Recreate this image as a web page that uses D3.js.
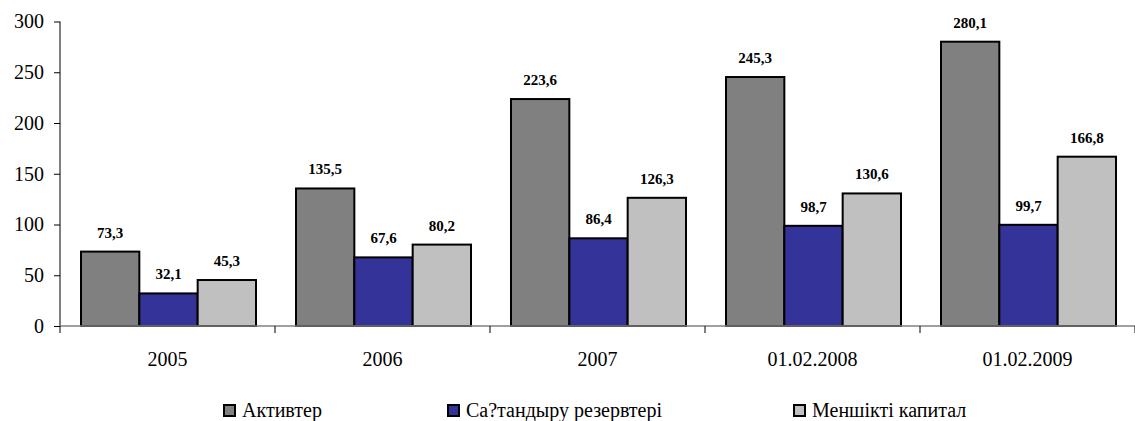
<!DOCTYPE html>
<html><head><meta charset="utf-8">
<script src="https://cdn.jsdelivr.net/npm/d3@7"></script>
</head><body style="margin:0;background:#fff"><svg id="c" width="1135" height="421" style="display:block"></svg>
<script>
const categories = ["2005","2006","2007","01.02.2008","01.02.2009"];
const seriesNames = ["Активтер","Са?тандыру резервтері","Меншікті капитал"];
const activeValues = [73.3,135.5,223.6,245.3,280.1];
const reserveValues = [32.1,67.6,86.4,98.7,99.7];
const capitalValues = [45.3,80.2,126.3,130.6,166.8];
const yTicks = [0,50,100,150,200,250,300];
const colors = ["#808080","#333399","#c0c0c0"];

const series = [activeValues, reserveValues, capitalValues];
const svg = d3.select("#c").attr("font-family","Liberation Serif");
const x0 = d3.scaleBand().domain(categories).range([60,1135]);
const x1 = d3.scaleBand().domain(d3.range(3)).range([21, 196]);
const y = d3.scaleLinear().domain([0,300]).range([326,21.5]);

// y axis
const ya = svg.append("g").attr("transform","translate(60,0)")
  .call(d3.axisLeft(y).tickValues(yTicks).tickSize(6).tickPadding(10).tickFormat(d3.format("d")));
ya.attr("font-family","Liberation Serif").attr("font-size",20);
ya.select(".domain").attr("stroke","#000").attr("stroke-width",1).attr("d","M0,21.5V326");
ya.selectAll(".tick line").attr("stroke","#000");
ya.selectAll(".tick text").attr("fill","#000");

// bars
const g = svg.append("g");
categories.forEach((c,i)=>{
  series.forEach((s,j)=>{
    const v = s[i];
    g.append("rect")
      .attr("x", x0(c)+x1(j)).attr("y", y(v))
      .attr("width", x1.bandwidth()).attr("height", y(0)-y(v))
      .attr("fill", colors[j]).attr("stroke","#000").attr("stroke-width",2);
    g.append("text")
      .attr("x", x0(c)+x1(j)+x1.bandwidth()/2).attr("y", y(v)-14)
      .attr("text-anchor","middle")
      .attr("font-family","Liberation Serif").attr("font-size",15).attr("font-weight","bold")
      .text(String(v).replace(".",","));
  });
});

// x axis
const xa = svg.append("g").attr("transform","translate(0,326)");
xa.append("line").attr("x1",60).attr("x2",1135).attr("y1",0).attr("y2",0).attr("stroke","#808080").attr("stroke-width",1.5);
const bounds = categories.map(c=>x0(c)).concat([x0.range()[1]]);
xa.selectAll(".bt").data(bounds).enter().append("line")
  .attr("x1",d=>d).attr("x2",d=>d).attr("y1",0).attr("y2",7).attr("stroke","#000");
xa.selectAll(".cl").data(categories).enter().append("text")
  .attr("x",d=>x0(d)+x0.bandwidth()/2).attr("y",40)
  .attr("text-anchor","middle").attr("font-family","Liberation Serif").attr("font-size",20).text(d=>d);

// legend
const legendX = [223, 447, 793];
const lg = svg.append("g");
seriesNames.forEach((n,j)=>{
  lg.append("rect").attr("x",legendX[j]+1).attr("y",405).attr("width",11).attr("height",11)
    .attr("fill",colors[j]).attr("stroke","#000").attr("stroke-width",2);
  lg.append("text").attr("x",legendX[j]+19).attr("y",417)
    .attr("font-family","Liberation Serif").attr("font-size",20).text(n);
});
</script></body></html>
